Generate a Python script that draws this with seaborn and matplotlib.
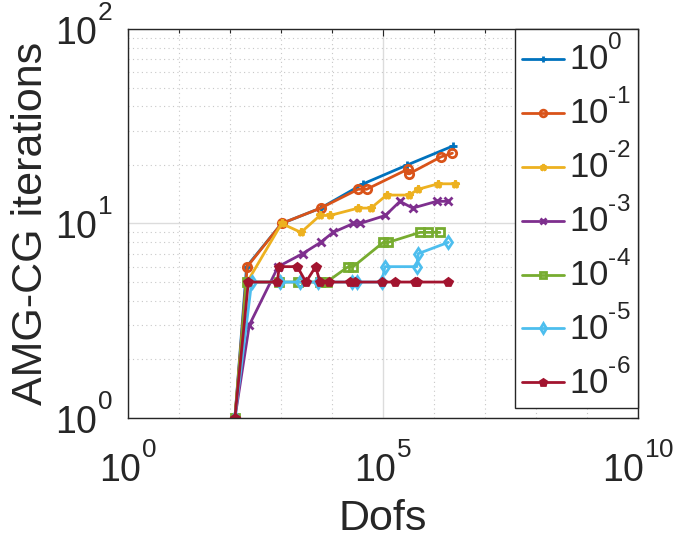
import matplotlib
matplotlib.use("Agg")
import matplotlib.pyplot as plt
import matplotlib.ticker as mticker
import seaborn as sns
import numpy as np

try:
    import matplotlib._mathtext as _mt
    _mt.FontConstantsBase.sup1 = 1.1
except Exception:
    pass

# ---- data ----
labels = [r"10$^{\text{0}}$", r"10$^{\text{-1}}$", r"10$^{\text{-2}}$", r"10$^{\text{-3}}$",
          r"10$^{\text{-4}}$", r"10$^{\text{-5}}$", r"10$^{\text{-6}}$"]
xtick_vals = [1, 1e5, 1e10]
xtick_labels = [r"10$^{\text{0}}$", r"10$^{\text{5}}$", r"10$^{\text{10}}$"]
ytick_vals = [1, 10, 100]
ytick_labels = [r"10$^{\text{0}}$", r"10$^{\text{1}}$", r"10$^{\text{2}}$"]

dofs_e0 = [125, 212, 1030, 6000, 41100, 299500, 2330000]
iters_e0 = [1, 6, 10, 12, 16, 20, 25]

dofs_e1 = [125, 218, 1030, 6000, 32800, 47900, 305000, 323400, 1370000, 2300000]
iters_e1 = [1, 6, 10, 12, 15, 15, 19, 18, 22, 23]

dofs_e2 = [125, 218, 1030, 2470, 5820, 9140, 32800, 58200, 118300, 323400, 492200, 1210000, 2580000]
iters_e2 = [1, 5, 10, 9, 11, 11, 12, 12, 14, 14, 15, 16, 16]

dofs_e3 = [125, 239, 880, 2660, 6000, 10470, 26170, 35400, 112000, 215400, 382400, 1130000, 1860000]
iters_e3 = [1, 3, 6, 7, 8, 9, 10, 10, 11, 13, 12, 13, 13]

dofs_e4 = [125, 212, 900, 2185, 5820, 7870, 20880, 26170, 101400, 127000, 531400, 773000, 1310000]
iters_e4 = [1, 5, 5, 5, 5, 5, 6, 6, 8, 8, 9, 9, 9]

dofs_e5 = [125, 266, 956, 2360, 5390, 24330, 30500, 94400, 109400, 457700, 492200, 1910000]
iters_e5 = [1, 5, 5, 5, 5, 5, 5, 5, 6, 6, 7, 8]

dofs_e6 = [125, 229, 846, 926, 2089, 3090, 4790, 5817, 8850, 22540, 28250, 94400, 171900, 424000, 470700, 1860000]
iters_e6 = [1, 5, 5, 6, 6, 5, 6, 5, 5, 5, 5, 5, 5, 5, 5, 5]

series_x = [dofs_e0, dofs_e1, dofs_e2, dofs_e3, dofs_e4, dofs_e5, dofs_e6]
series_y = [iters_e0, iters_e1, iters_e2, iters_e3, iters_e4, iters_e5, iters_e6]

colors = ["#0072BD", "#D95319", "#EDB120", "#7E2F8E", "#77AC30", "#4DBEEE", "#A2142F"]
markers = ["+", "o", "*", "x", "s", "d", "p"]

sns.set_style("white")
plt.rcParams["font.family"] = ["Liberation Sans", "DejaVu Sans"]
plt.rcParams["mathtext.fontset"] = "custom"
plt.rcParams["mathtext.rm"] = "Liberation Sans"
plt.rcParams["mathtext.it"] = "Liberation Sans"
plt.rcParams["mathtext.default"] = "regular"

fig = plt.figure(figsize=(6.79, 5.39), dpi=100)
ax = fig.add_axes([0.1885, 0.2245, 0.751, 0.7217])

for xs, ys, c, m, lab in zip(series_x, series_y, colors, markers, labels):
    sns.lineplot(x=xs, y=ys, ax=ax, color=c, marker=m, markersize=6,
                 markeredgewidth=2, markerfacecolor="none" if m in ("o", "d", "s") else c,
                 markeredgecolor=c, linewidth=2, sort=False, estimator=None,
                 label=lab)

ax.set_xscale("log")
ax.set_yscale("log")
ax.set_xlim(1, 1e10)
ax.set_ylim(1, 100)

ax.xaxis.set_major_locator(mticker.FixedLocator(xtick_vals))
ax.xaxis.set_minor_locator(mticker.FixedLocator([10.0**k for k in range(1, 10) if k != 5]))
ax.xaxis.set_major_formatter(mticker.FixedFormatter(xtick_labels))
ax.xaxis.set_minor_formatter(mticker.NullFormatter())
ax.yaxis.set_major_locator(mticker.FixedLocator(ytick_vals))
ax.yaxis.set_major_formatter(mticker.FixedFormatter(ytick_labels))
ax.yaxis.set_minor_locator(mticker.LogLocator(base=10, subs=np.arange(2, 10), numticks=20))
ax.yaxis.set_minor_formatter(mticker.NullFormatter())

ax.grid(True, which="major", color="#dcdcdc", linewidth=1, linestyle="-")
ax.grid(True, which="minor", color="#c8c8c8", linewidth=0.8, linestyle=(0, (1, 3)))
ax.set_axisbelow(True)

ax.tick_params(which="both", direction="in", top=True, right=True, colors="#262626",
               labelsize=27, length=5, width=0.8)
ax.tick_params(which="minor", length=3)
ax.tick_params(axis="x", which="major", pad=18)
ax.tick_params(axis="y", which="major", pad=11)
for t in ax.get_yticklabels():
    t.set_va("center")
for s in ax.spines.values():
    s.set_color("#262626")
    s.set_linewidth(1.0)
    s.set_visible(True)

ax.set_xlabel("Dofs", fontsize=31, color="#262626", labelpad=7)
ax.set_ylabel("AMG-CG iterations", fontsize=31, color="#262626", labelpad=3)

leg = ax.legend(loc="upper right", bbox_to_anchor=(1.0, 1.0), borderaxespad=0,
                fontsize=25, frameon=True, fancybox=False, edgecolor="#262626",
                handlelength=1.2, handletextpad=0.15, labelspacing=0.34,
                borderpad=0.2, markerscale=0.8)
leg.get_frame().set_linewidth(1.0)
leg.get_frame().set_alpha(1.0)

fig.savefig("out.png", dpi=100)
